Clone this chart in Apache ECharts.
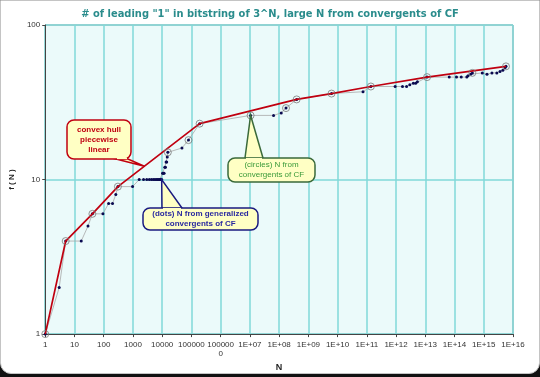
<!DOCTYPE html>
<html><head><meta charset="utf-8">
<script src="https://cdn.jsdelivr.net/npm/echarts@6/dist/echarts.min.js"></script>
<style>
html,body{margin:0;padding:0;background:#111;}
#wrap{position:relative;width:540px;height:377px;background:#111;overflow:hidden;}
#frame{position:absolute;left:0;top:0;width:538px;height:372px;background:#fff;border:1px solid #c4c4c4;border-radius:0 0 11px 11px;}
#c{position:absolute;left:0;top:0;width:540px;height:377px;}
</style>
</head><body>
<div id="wrap"><div id="frame"></div><div id="c"></div></div>
<script>
// all points (generalized convergents), sorted by N
const allN = [1, 3, 5, 17, 29, 41, 94, 147, 200, 259, 306, 971,
  1636, 2301, 2966, 3631, 4296, 4961, 5626, 6291, 6956, 7621, 8286, 8951, 9616,
  10281, 10946, 11611, 12276, 12941, 13606, 14271, 14936, 15601,
  47468, 79335, 190537, 10590737, 64500000, 118000000, 172000000, 397573379,
  6189245291, 7.4e10, 1.375e11, 9.3e11, 1.66e12, 2.29e12, 2.95e12, 3.89e12, 4.68e12, 5.37e12,
  1.15e13, 6.6e13, 1.17e14, 1.7e14, 2.63e14, 2.9e14, 3.55e14, 4.07e14,
  8.9e14, 1.29e15, 1.9e15, 2.8e15, 3.6e15, 4.5e15, 5.4e15, 5.75e15];
const allF = [1, 2, 4, 4, 5, 6, 6, 7, 7, 8, 9, 9,
  10, 10, 10, 10, 10, 10, 10, 10, 10, 10, 10, 10, 10,
  11, 11, 11, 12, 12, 13, 13, 14, 15,
  16, 18, 23, 26, 26, 27, 29, 33,
  36, 37, 40, 40, 40, 40, 41, 42, 42, 43,
  46, 46, 46, 46, 46, 47, 48, 49,
  49, 48, 49, 49, 50, 51, 53, 54];
// convergents of CF (circles)
const circN = [1, 5, 41, 306, 15601, 79335, 190537, 10590737, 172000000, 397573379, 6189245291, 1.375e11, 1.15e13, 4.07e14, 5.75e15];
const circF = [1, 4, 6, 9, 15, 18, 23, 26, 29, 33, 36, 40, 46, 49, 54];
// convex hull, piecewise linear
const hullN = [1, 5, 41, 306, 190537, 397573379, 6189245291, 1.375e11, 1.15e13, 5.75e15];
const hullF = [1, 4, 6, 9, 23, 33, 36, 40, 46, 54];
const xTicks = ['1','10','100','1000','10000','100000','100000\n0','1E+07','1E+08','1E+09','1E+10','1E+11','1E+12','1E+13','1E+14','1E+15','1E+16'];
const yTicks = ['1','10','100'];

const zip = (a, b) => a.map((v, i) => [v, b[i]]);
const chart = echarts.init(document.getElementById('c'), null, {renderer: 'canvas'});
const lblFont = 'Liberation Sans, Arial, sans-serif';
chart.setOption({
  animation: false,
  title: {
    text: '# of leading "1" in bitstring of 3^N, large N from convergents of CF',
    left: 'center', top: 4,
    textStyle: {fontFamily: 'DejaVu Sans Condensed, DejaVu Sans', fontWeight: 'bold', fontSize: 11, color: '#2a8c8c'}
  },
  grid: {left: 38, right: 27, top: 25, bottom: 39, show: true, backgroundColor: '#ebfafa', borderColor: '#8a8a8a', borderWidth: 1},
  xAxis: {
    type: 'log', logBase: 10, min: 1, max: 1e16, interval: 1,
    name: 'N', nameLocation: 'middle', nameGap: 22,
    nameTextStyle: {fontFamily: lblFont, fontWeight: 'bold', fontSize: 9, color: '#222'},
    axisLine: {show: true, lineStyle: {color: '#444', width: 1}},
    axisTick: {show: true, length: 3, lineStyle: {color: '#444'}},
    axisLabel: {fontFamily: lblFont, fontSize: 8, color: '#333', margin: 6, lineHeight: 9,
      formatter: v => xTicks[Math.round(Math.log10(v))]},
    splitLine: {show: true, lineStyle: {color: '#80d8d8', width: 1.5}},
    minorTick: {show: false},
    minorSplitLine: {show: false}
  },
  yAxis: {
    type: 'log', logBase: 10, min: 1, max: 100, interval: 1,
    name: 'f ( N )', nameLocation: 'middle', nameGap: 24,
    nameTextStyle: {fontFamily: lblFont, fontWeight: 'bold', fontSize: 8, color: '#222'},
    axisLine: {show: true, lineStyle: {color: '#444', width: 1}},
    axisTick: {show: true, length: 3, lineStyle: {color: '#444'}},
    axisLabel: {fontFamily: lblFont, fontSize: 8, color: '#333', margin: 5,
      formatter: v => yTicks[Math.round(Math.log10(v))]},
    splitLine: {show: true, lineStyle: {color: '#80d8d8', width: 1.5}}
  },
  series: [
    {type: 'line', name: 'path', data: zip(allN, allF), symbol: 'circle', symbolSize: 3,
      lineStyle: {color: '#a8a8a8', width: 0.8}, itemStyle: {color: '#0a0a50'}, z: 3},
    {type: 'line', name: 'hull', data: zip(hullN, hullF), showSymbol: false, symbol: 'none',
      lineStyle: {color: '#c00010', width: 1.7}, z: 4},
    {type: 'scatter', name: 'conv', data: zip(circN, circF), symbol: 'circle', symbolSize: 7,
      itemStyle: {color: 'rgba(0,0,0,0)', borderColor: '#7a7a7a', borderWidth: 1}, z: 5}
  ]
});

function callout(box, base, tip, lines, border, textColor, bold) {
  const els = [];
  els.push({type: 'polygon', shape: {points: [base[0], tip, base[1]]},
    style: {fill: '#ffffc4', stroke: border, lineWidth: 1.5}, z: 10});
  els.push({type: 'rect', shape: {x: box[0], y: box[1], width: box[2], height: box[3], r: 7},
    style: {fill: '#ffffc4', stroke: border, lineWidth: 1.5}, z: 11});
  const inset = (box[1] + box[3] / 2 > tip[1]) ? 1.5 : -1.5;
  els.push({type: 'polygon', shape: {points: [[base[0][0] + 1, base[0][1] + inset], [base[1][0] - 1, base[1][1] + inset], [base[1][0] - 1, base[1][1] - inset*0.1], [base[0][0] + 1, base[0][1] - inset*0.1]]},
    style: {fill: '#ffffc4'}, z: 12});
  els.push({type: 'text', x: box[0] + box[2] / 2, y: box[1] + box[3] / 2,
    style: {text: lines.join('\n'), fill: textColor, font: (bold ? 'bold ' : '') + '8px Liberation Sans, Arial, sans-serif',
      align: 'center', verticalAlign: 'middle', lineHeight: 10}, z: 13});
  return els;
}

const px = p => chart.convertToPixel({gridIndex: 0}, p);
const tipRed = px([2460, 12.2]);
const tipBlue = px([9616, 10]);
const tipGreen = px([10590737, 26]);
const g = [].concat(
  callout([67, 120, 64, 39], [[116, 159], [128, 159]], tipRed, ['convex hull', 'piecewise', 'linear'], '#c00010', '#c00010', true),
  callout([143, 208, 115, 22], [[162, 208], [182, 208]], tipBlue, ['(dots) N from generalized', 'convergents of CF'], '#1a1a80', '#2a2aa0', true),
  callout([228, 158, 87, 24], [[245, 158], [263, 158]], tipGreen, ['(circles) N from', 'convergents of CF'], '#3a6a3a', '#3a9a3a', false)
);
chart.setOption({graphic: {elements: g}});
</script>
</body></html>
